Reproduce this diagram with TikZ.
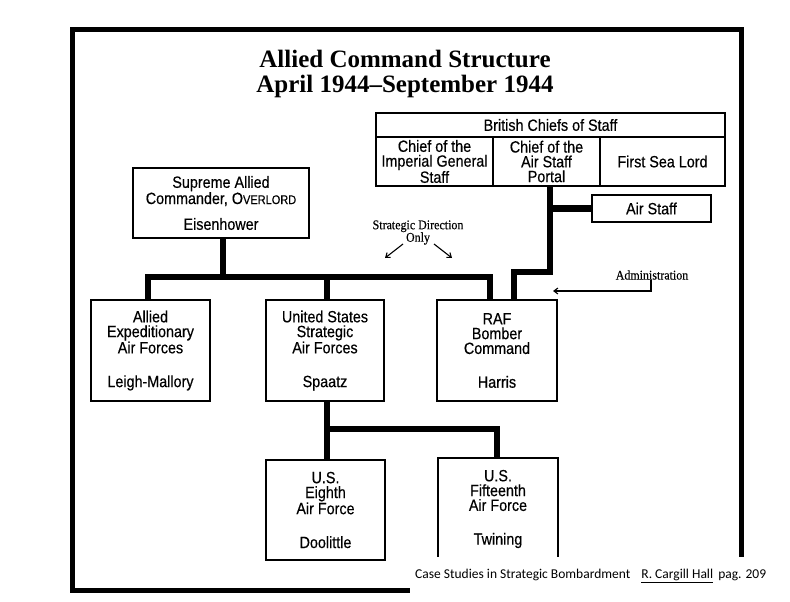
\documentclass[tikz,border=0pt]{standalone}
\usepackage{fontspec}
\setmainfont{Liberation Serif}
\newfontfamily\boxfont[FakeStretch=0.88,FakeBold=0.4]{Liberation Sans}
\newfontfamily\lblfont[FakeStretch=0.9,FakeBold=0.3]{Liberation Serif}
\newfontfamily\capfont{Carlito}
\usetikzlibrary{arrows.meta}
\tikzset{
  box/.style={draw, line width=1.2pt, fill=white, inner sep=0pt, align=center,
    font=\boxfont\fontsize{16.3}{14.8}\selectfont},
  bus/.style={line width=6.5pt, line join=miter, line cap=butt},
  thinarr/.style={line width=1.1pt, -{Straight Barb[length=4pt,width=6pt]}},
  lbl/.style={inner sep=0pt, align=center, font=\lblfont\fontsize{13.3}{12.5}\selectfont},
  ttl/.style={inner sep=0pt, align=center, font=\bfseries\fontsize{25}{24.5}\selectfont},
  frame/.style={line width=5pt, line join=miter}
}
\begin{document}
\begin{tikzpicture}[x=1pt,y=-1pt]
\useasboundingbox (0,0) rectangle (790,602);
\fill[white] (0,0) rectangle (790,602);
% outer frame
\draw[frame] (72,30) rectangle (741,590);
% title
\node[ttl] (title) at (405,74) {Allied Command Structure\\April 1944--September 1944};
% helper coordinates
\coordinate (busy) at (0,277);
\coordinate (rafturn) at (0,272);
\coordinate (usbus) at (0,429);
% boxes
\node[box, minimum width=349pt, minimum height=24pt] (bcs) at (550.5,125) {British Chiefs of Staff};
\node[box, minimum width=117pt, minimum height=49pt] (cigs) at (434.5,161.5) {Chief of the\\Imperial General\\Staff};
\node[box, minimum width=107pt, minimum height=49pt] (cas) at (546.5,161.5) {Chief of the\\Air Staff\\Portal};
\node[box, minimum width=125pt, minimum height=49pt] (fsl) at (662.5,161.5) {First Sea Lord};
\node[box, minimum width=119pt, minimum height=27pt] (airstaff) at (651.5,208.5) {Air Staff};
\node[box, minimum width=176pt, minimum height=70pt] (sac) at (221,203) {Supreme Allied\\Commander, O{\fontsize{12.5}{14.8}\selectfont VERLORD}\\[11pt]Eisenhower};
\node[box, minimum width=119pt, minimum height=101pt] (aeaf) at (150.5,350.5) {Allied\\Expeditionary\\Air Forces\\[19pt]Leigh-Mallory};
\node[box, minimum width=118pt, minimum height=101pt] (usstaf) at (325,350.5) {United States\\Strategic\\Air Forces\\[19pt]Spaatz};
\node[box, minimum width=120pt, minimum height=101pt] (raf) at (497,350.5) {RAF\\Bomber\\Command\\[19pt]Harris};
\node[box, minimum width=119pt, minimum height=100pt] (eighth) at (325.5,510) {U.S.\\Eighth\\Air Force\\[19pt]Doolittle};
\node[box, minimum width=120pt, minimum height=102pt] (fifteenth) at (498,509) {U.S.\\Fifteenth\\Air Force\\[19pt]Twining};
% thick connectors
\draw[bus] ([xshift=2pt]sac.south) -- ([xshift=2pt]sac.south |- busy);
\draw[bus] ([xshift=-2.5pt]aeaf.north) |- ([xshift=-7pt]raf.north |- busy) -- ([xshift=-7pt]raf.north);
\draw[bus] ([xshift=2pt]usstaf.north) -- ([xshift=2pt]usstaf.north |- busy);
\draw[bus] ([xshift=17pt]raf.north) |- ([xshift=3.5pt]cas.south |- rafturn) -- ([xshift=3.5pt]cas.south);
\draw[bus] (airstaff.west) -- ([xshift=3.5pt]cas.south |- airstaff.west);
\draw[bus] ([xshift=2pt]usstaf.south) -- ([xshift=2pt]usstaf.south |- eighth.north);
\draw[bus] ([xshift=2pt]usstaf.south |- usbus) -| ([xshift=-1pt]fifteenth.north);
% labels and thin arrows
\node[lbl] (sdo) at (418,232.5) {Strategic Direction\\Only};
\coordinate (sdLs) at (403,244);
\coordinate (sdLe) at (385,258);
\coordinate (sdRs) at (434,244);
\coordinate (sdRe) at (452,258);
\draw[thinarr] (sdLs) -- (sdLe);
\draw[thinarr] (sdRs) -- (sdRe);
\node[lbl] (adm) at (652,275) {Administration};
\coordinate (admtip) at (553,291);
\draw[thinarr] ([xshift=-1pt]adm.south) |- (admtip);
% caption area
\fill[white] (410,557) rectangle (790,602);
\node[inner sep=0pt, anchor=base west, font=\capfont\fontsize{13.5}{14}\selectfont] (cap) at (415,578)
  {Case Studies in Strategic Bombardment\hspace{11pt}\underline{R. Cargill Hall}\hspace{5pt}pag. 209};
\end{tikzpicture}
\end{document}
